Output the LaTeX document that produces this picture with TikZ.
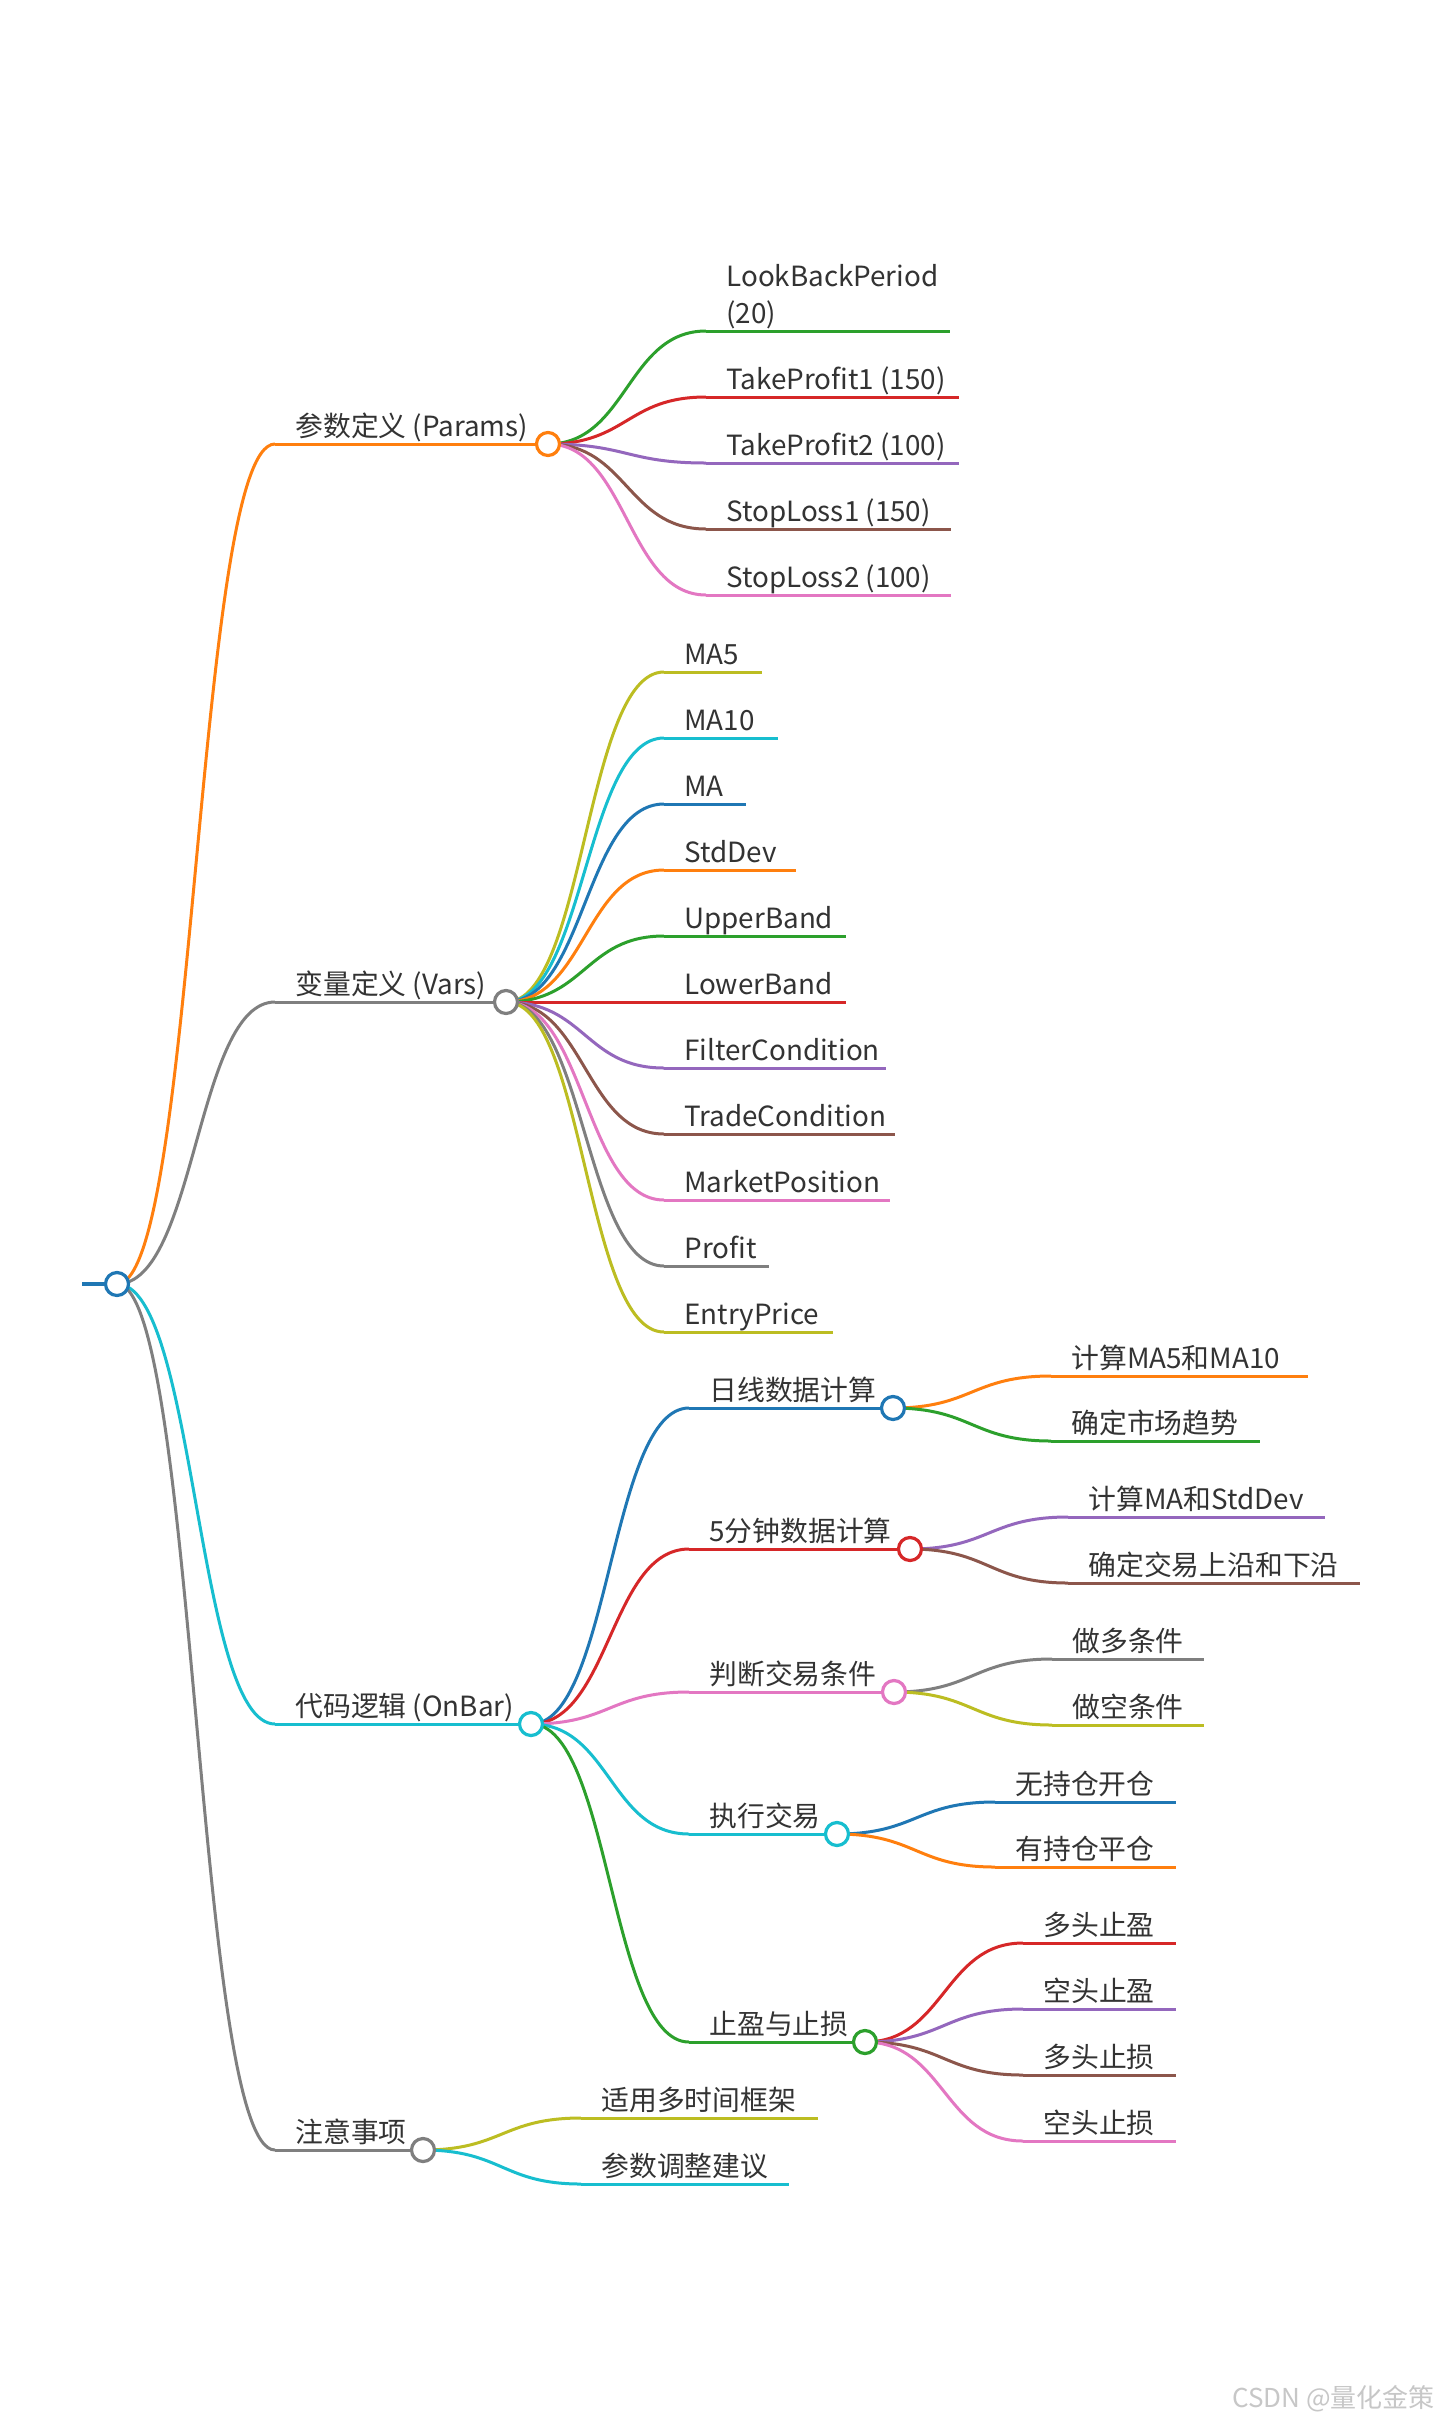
\documentclass[tikz,border=0pt]{standalone}
\usepackage{fontspec}
\setmainfont{Noto Sans CJK SC}
\usetikzlibrary{calc}
\definecolor{mblue}{HTML}{1F77B4}
\definecolor{morange}{HTML}{FF7F0E}
\definecolor{mgreen}{HTML}{2CA02C}
\definecolor{mred}{HTML}{D62728}
\definecolor{mpurple}{HTML}{9467BD}
\definecolor{mbrown}{HTML}{8C564B}
\definecolor{mpink}{HTML}{E377C2}
\definecolor{mgray}{HTML}{7F7F7F}
\definecolor{molive}{HTML}{BCBD22}
\definecolor{mcyan}{HTML}{17BECF}
\definecolor{txt}{HTML}{333333}
\pgfdeclarelayer{paper}
\pgfdeclarelayer{links}
\pgfsetlayers{paper,links,main}
\tikzset{
  knot/.style={circle,draw=#1,fill=white,line width=1.6pt,minimum size=11.5pt,inner sep=0pt},
  lbl/.style={anchor=base west,inner sep=0pt,text=txt,font=\fontsize{13.9}{18.5}\selectfont},
  bar/.style={line width=1.5pt},
  twig/.style={line width=1.5pt,
    to path={let \p1=(\tikztostart),\p2=(\tikztotarget) in
      .. controls ({(\x1+\x2)/2},\y1) and ({(\x1+\x2)/2},\y2) .. (\tikztotarget)}},
}
\begin{document}
\begin{tikzpicture}[x=0.5pt,y=-0.5pt]
  \begin{pgfonlayer}{paper}
    \fill[white] (0,0) rectangle (1440,2421);
  \end{pgfonlayer}
  \useasboundingbox (0,0) rectangle (1440,2421);

  % root
  \node[knot=mblue] (root) at (117,1284) {};
  \coordinate (root-s) at (82,1284);
  \begin{pgfonlayer}{links}
    \draw[mblue,line width=2pt] (root-s) -- (root);
  \end{pgfonlayer}

  % hubs: level 1 and the parts of OnBar
  \foreach \up/\xp/\nm/\py/\xc/\col/\txt in {
      root/117/params/444/548/morange/{参数定义 (Params)},
      root/117/vars/1002/506/mgray/{变量定义 (Vars)},
      root/117/onbar/1724/531/mcyan/{代码逻辑 (OnBar)},
      root/117/notes/2150/423/mgray/{注意事项},
      onbar/531/daily/1408/893/mblue/{日线数据计算},
      onbar/531/fivemin/1549/910/mred/{5分钟数据计算},
      onbar/531/judge/1692/894/mpink/{判断交易条件},
      onbar/531/exec/1834/837/mcyan/{执行交易},
      onbar/531/stops/2042/865/mgreen/{止盈与止损}} {
    \node[knot=\col] (\nm) at (\xc,\py) {};
    \coordinate (\nm-s) at (\xp+158,\py);
    \node[lbl] (\nm-t) at (\xp+178,\py-8) {\txt};
    \begin{pgfonlayer}{links}
      \draw[bar,\col] (\nm-s) -- (\nm);
      \draw[twig,\col] (\up.center) to (\nm-s);
    \end{pgfonlayer}
  }

  % leaves
  \coordinate (lbp-s) at (706,331);
  \coordinate (lbp-e) at (950,331);
  \node[lbl,align=left] (lbp) at (726,323) {LookBackPeriod\\(20)};
  \begin{pgfonlayer}{links}
    \draw[bar,mgreen] (lbp-s) -- (lbp-e);
    \draw[twig,mgreen] (params.center) to (lbp-s);
  \end{pgfonlayer}
  \foreach \up/\xp/\nm/\py/\xe/\col/\txt in {
      params/548/tp1/397/959/mred/{TakeProfit1 (150)},
      params/548/tp2/463/959/mpurple/{TakeProfit2 (100)},
      params/548/sl1/529/951/mbrown/{StopLoss1 (150)},
      params/548/sl2/595/951/mpink/{StopLoss2 (100)},
      vars/506/ma5/672/762/molive/{MA5},
      vars/506/ma10/738/778/mcyan/{MA10},
      vars/506/ma/804/746/mblue/{MA},
      vars/506/sd/870/796/morange/{StdDev},
      vars/506/ub/936/846/mgreen/{UpperBand},
      vars/506/lb/1002/846/mred/{LowerBand},
      vars/506/fc/1068/886/mpurple/{FilterCondition},
      vars/506/tc/1134/895/mbrown/{TradeCondition},
      vars/506/mp/1200/890/mpink/{MarketPosition},
      vars/506/pf/1266/769/mgray/{Profit},
      vars/506/ep/1332/833/molive/{EntryPrice},
      daily/893/d1/1376/1308/morange/{计算MA5和MA10},
      daily/893/d2/1441/1260/mgreen/{确定市场趋势},
      fivemin/910/f1/1517/1325/mpurple/{计算MA和StdDev},
      fivemin/910/f2/1583/1360/mbrown/{确定交易上沿和下沿},
      judge/894/j1/1659/1204/mgray/{做多条件},
      judge/894/j2/1725/1204/molive/{做空条件},
      exec/837/e1/1802/1176/mblue/{无持仓开仓},
      exec/837/e2/1867/1176/morange/{有持仓平仓},
      stops/865/s1/1943/1176/mred/{多头止盈},
      stops/865/s2/2009/1176/mpurple/{空头止盈},
      stops/865/s3/2075/1176/mbrown/{多头止损},
      stops/865/s4/2141/1176/mpink/{空头止损},
      notes/423/n1/2118/818/molive/{适用多时间框架},
      notes/423/n2/2184/789/mcyan/{参数调整建议}} {
    \coordinate (\nm-s) at (\xp+158,\py);
    \coordinate (\nm-e) at (\xe,\py);
    \node[lbl] (\nm) at (\xp+178,\py-8) {\txt};
    \begin{pgfonlayer}{links}
      \draw[bar,\col] (\nm-s) -- (\nm-e);
      \draw[twig,\col] (\up.center) to (\nm-s);
    \end{pgfonlayer}
  }

  % watermark
  \node[anchor=base east,inner sep=0pt,text=black!22,font=\fontsize{13}{13}\selectfont] (mark) at (1435,2407) {CSDN @量化金策};
\end{tikzpicture}
\end{document}
